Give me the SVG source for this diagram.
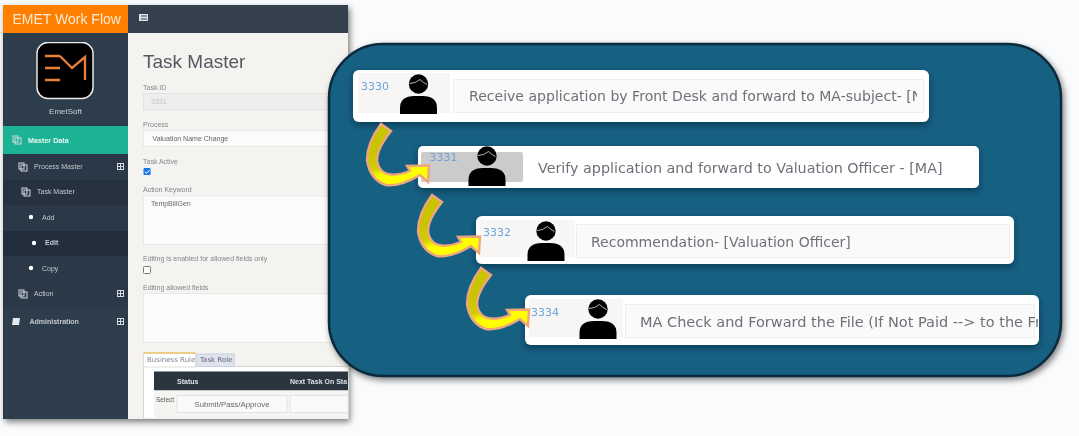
<svg xmlns="http://www.w3.org/2000/svg" width="1079" height="436" viewBox="0 0 1079 436">
<defs>
<style>
text{font-family:"Liberation Sans",Arial,sans-serif}
.lab{font-size:7px;fill:#82868c}
.side{font-size:7px;fill:#c3c9ce}
.row{fill:#6d7179;font-family:"DejaVu Sans",sans-serif}
.id{font-size:11px;fill:#6fa3dc;font-family:"DejaVu Sans",sans-serif}
.card{fill:#fff}
.panel{fill:#f7f6f4}
.box{fill:#fafafa;stroke:#eeeeee}
.arrow{stroke:#eda67e;stroke-width:2.4;stroke-linejoin:miter}
.icon{stroke:#fff;stroke-width:.7;fill:none}
.tab{font-size:7px;font-family:"DejaVu Sans",sans-serif}
</style>
<filter id="sh" x="-5%" y="-5%" width="112%" height="115%"><feDropShadow dx="2" dy="3" stdDeviation="3" flood-color="#000" flood-opacity=".5"/></filter>
<filter id="sh2" x="-5%" y="-20%" width="110%" height="150%"><feDropShadow dx="0" dy="3" stdDeviation="3" flood-color="#04202f" flood-opacity=".55"/></filter>
<filter id="soft" x="0" y="0" width="100%" height="100%"><feGaussianBlur stdDeviation=".3"/></filter>
<linearGradient id="g" gradientUnits="userSpaceOnUse" x1="381" y1="150" x2="390" y2="178"><stop offset="0" stop-color="#c9c400"/><stop offset=".55" stop-color="#d2cc00"/><stop offset=".85" stop-color="#ffff00"/></linearGradient>
<clipPath id="c1"><rect x="353" y="70" width="564" height="52"/></clipPath>
<clipPath id="c4"><rect x="525" y="295" width="513" height="50"/></clipPath>
<g id="person"><circle cx="0" cy="-30" r="9.700" fill="#000"/><path class="icon" d="M-9-30.500Q-3-30.500 1.500-34.500Q5-31 8.500-29.500"/><path d="M-18.500,0V-6Q-18.500-18-4-18H4Q18.500-18 18.500-6V0Z" fill="#000"/></g>
<path id="arr" class="arrow" fill="url(#g)" d="M381 124L391 131Q372 155 379 167Q386 180 410 171L407 166L429 165.500L428 182L420 175Q400 187 386 185Q370 180 367 160Q367 143 381 124Z"/>
</defs>
<rect width="1079" height="436" fill="#fafbfc"/>
<g id="app" filter="url(#sh)">
<rect x="3" y="5" width="345" height="414" fill="#f4f3f0"/>
<rect x="3" y="5" width="125" height="414" fill="#2f3d4b"/>
<rect x="128" y="5" width="220" height="28" fill="#35414f"/>
<rect x="3" y="5" width="125" height="28" fill="#ff7f00"/>
<text x="12.500" y="24" font-size="14" fill="#fbe9d5">EMET Work Flow</text>
<rect x="139" y="14" width="9" height="7" fill="#dfe3e6"/><path d="M141 16h6M141 19h6" stroke="#35414f"/>
</g>
<g id="sidebar" filter="url(#soft)">
<rect x="37" y="42.500" width="56" height="56" rx="11" fill="#000" stroke="#e8e8e8" stroke-width="1.500"/>
<path d="M45 56h15M45 68h15M45 80h15M60 56L72 68L85 57V80" fill="none" stroke="#e87f38" stroke-width="2.300"/>
<text x="65.500" y="114" text-anchor="middle" font-size="8" fill="#c9ced3">EmetSoft</text>
<rect x="3" y="126" width="125" height="28" fill="#1ab394"/>
<text x="28" y="143" font-size="7.200" font-weight="bold" fill="#e8f7f3">Master Data</text>
<rect x="3" y="154" width="125" height="153" fill="#293846"/>
<rect x="3" y="180" width="125" height="25" fill="#253240"/>
<rect x="3" y="231" width="125" height="25" fill="#222e3b"/>
<g fill="none" stroke="#d5dadd"><rect x="13" y="136" width="5" height="6"/><rect x="15" y="138" width="6" height="6"/><rect x="19" y="163" width="5" height="6"/><rect x="21" y="165" width="6" height="6"/><rect x="22" y="188" width="5" height="6"/><rect x="24" y="190" width="6" height="6"/><rect x="19" y="290" width="5" height="6"/><rect x="21" y="292" width="6" height="6"/></g>
<text x="34" y="169" class="side">Process Master</text>
<text x="37" y="194" class="side">Task Master</text>
<text x="42" y="220" class="side">Add</text>
<text x="45" y="245" class="side" font-weight="bold">Edit</text>
<text x="42" y="271" class="side">Copy</text>
<text x="34" y="296" class="side">Action</text>
<text x="29.500" y="324" class="side" font-weight="bold">Administration</text>
<circle cx="31" cy="217" r="2.200" fill="#fff"/><circle cx="34" cy="243" r="2.200" fill="#fff"/><circle cx="31" cy="268" r="2.200" fill="#fff"/>
<path d="M13 318h7l-1 7h-7z" fill="#e5e8ea"/>
<g fill="none" stroke="#d5dadd"><rect x="117.500" y="163.500" width="6" height="6"/><path d="M120.500 163.500v6M117.500 166.500h6"/><rect x="117.500" y="290.500" width="6" height="6"/><path d="M120.500 290.500v6M117.500 293.500h6"/><rect x="117.500" y="318.500" width="6" height="6"/><path d="M120.500 318.500v6M117.500 321.500h6"/></g>
</g>
<g id="form" filter="url(#soft)">
<text x="143" y="68" font-size="19" fill="#555a60">Task Master</text>
<text x="143" y="90" class="lab">Task ID</text>
<rect x="143.500" y="93.500" width="205" height="16" fill="#eeeeee" stroke="#e3e3e3"/>
<text x="151" y="104" font-size="7" fill="#c4c4c4">3331</text>
<text x="143" y="127" class="lab">Process</text>
<rect x="143.500" y="130.500" width="205" height="16" fill="#fbfbfb" stroke="#e8e8e8"/>
<text x="152.500" y="141" font-size="7" fill="#666">Valuation Name Change</text>
<text x="143" y="164" class="lab">Task Active</text>
<rect x="143.500" y="168" width="7" height="7" rx="1" fill="#1a73e8"/><path d="M145 171.500l1.500 2l3-3.500" fill="none" stroke="#fff"/>
<text x="143" y="192" class="lab">Action Keyword</text>
<rect x="143.500" y="196" width="205" height="48.500" fill="#fbfbfb" stroke="#e8e8e8"/>
<text x="151" y="206" font-size="7" fill="#666">TempBillGen</text>
<text x="143" y="261" class="lab">Editing is enabled for allowed fields only</text>
<rect x="143.500" y="266.500" width="7" height="7" rx="1" fill="#fff" stroke="#777"/>
<text x="143" y="290" class="lab">Editing allowed fields</text>
<rect x="143.500" y="293.500" width="205" height="49" fill="#fbfbfb" stroke="#e8e8e8"/>
<rect x="143.500" y="366.500" width="205" height="52.500" fill="#fff" stroke="#d5d5d5"/>
<rect x="143.500" y="353" width="52" height="14" fill="#fff" stroke="#ddd"/><path d="M143.500 353h52" stroke="#f0ad30"/>
<text x="147" y="362" class="tab" fill="#7a8596">Business Rule</text>
<rect x="197" y="354" width="37" height="12.500" fill="#dfe3ee" stroke="#c8cede"/>
<text x="200" y="362" class="tab" fill="#667">Task Role</text>
<rect x="154" y="371.500" width="194" height="19" fill="#2a3440"/>
<text x="177" y="384" font-size="7" font-weight="bold" fill="#dfe2e5">Status</text>
<text x="290" y="384" font-size="7" font-weight="bold" fill="#dfe2e5">Next Task On Sta</text>
<rect x="154" y="390.500" width="194" height="28" fill="#f5f4f1"/>
<text x="156" y="402" font-size="6.500" fill="#555">Select</text>
<rect x="177" y="395.500" width="110" height="17" fill="#fafafa" stroke="#e2e2e2"/>
<text x="232" y="407" text-anchor="middle" font-size="7.800" fill="#666">Submit/Pass/Approve</text>
<rect x="290" y="395.500" width="58" height="17" fill="#fafafa" stroke="#e2e2e2"/>
</g>
<g id="workflow-panel">
<rect x="329" y="44" width="732" height="332" rx="54" fill="#156082" stroke="#0b2a3c" stroke-width="2.500" filter="url(#sh)"/>
</g>
<g id="task-3330" filter="url(#sh2)">
<rect class="card" x="353" y="70" width="576" height="52" rx="6"/>
<rect class="panel" x="358" y="73" width="92" height="40"/>
<rect class="box" x="453.500" y="79.500" width="470" height="33"/>
<use href="#person" x="418.500" y="114"/>
<text class="id" x="361" y="90">3330</text>
<g clip-path="url(#c1)"><text class="row" font-size="14.050" x="469" y="101">Receive application by Front Desk and forward to MA-subject- [N</text></g>
</g>
<g id="task-3331" filter="url(#sh2)">
<rect class="card" x="418" y="146" width="561" height="42" rx="5"/>
<rect x="421" y="152" width="102" height="30" rx="2" fill="#cbcbcb"/>
<use href="#person" x="487" y="186"/>
<text class="id" x="429.500" y="161">3331</text>
<text class="row" font-size="14.300" x="538" y="173">Verify application and forward to Valuation Officer - [MA]</text>
</g>
<g id="task-3332" filter="url(#sh2)">
<rect class="card" x="476" y="216" width="538" height="48" rx="6"/>
<rect class="panel" x="480" y="220" width="95" height="37"/>
<rect class="box" x="576.500" y="224.500" width="433" height="33"/>
<use href="#person" x="546" y="261"/>
<text class="id" x="483" y="236">3332</text>
<text class="row" font-size="14" x="591" y="247">Recommendation- [Valuation Officer]</text>
</g>
<g id="task-3334" filter="url(#sh2)">
<rect class="card" x="525" y="295" width="514" height="50" rx="6"/>
<rect class="panel" x="529" y="299" width="94" height="38"/>
<rect class="box" x="625.500" y="304.500" width="409" height="33"/>
<use href="#person" x="598" y="339"/>
<text class="id" x="531" y="316">3334</text>
<g clip-path="url(#c4)"><text class="row" font-size="14.500" x="640" y="327">MA Check and Forward the File (If Not Paid --&gt; to the Fr</text></g>
</g>
<g id="connectors">
<use href="#arr"/>
<use href="#arr" x="51" y="71"/>
<use href="#arr" x="100" y="144"/>
</g>
</svg>
